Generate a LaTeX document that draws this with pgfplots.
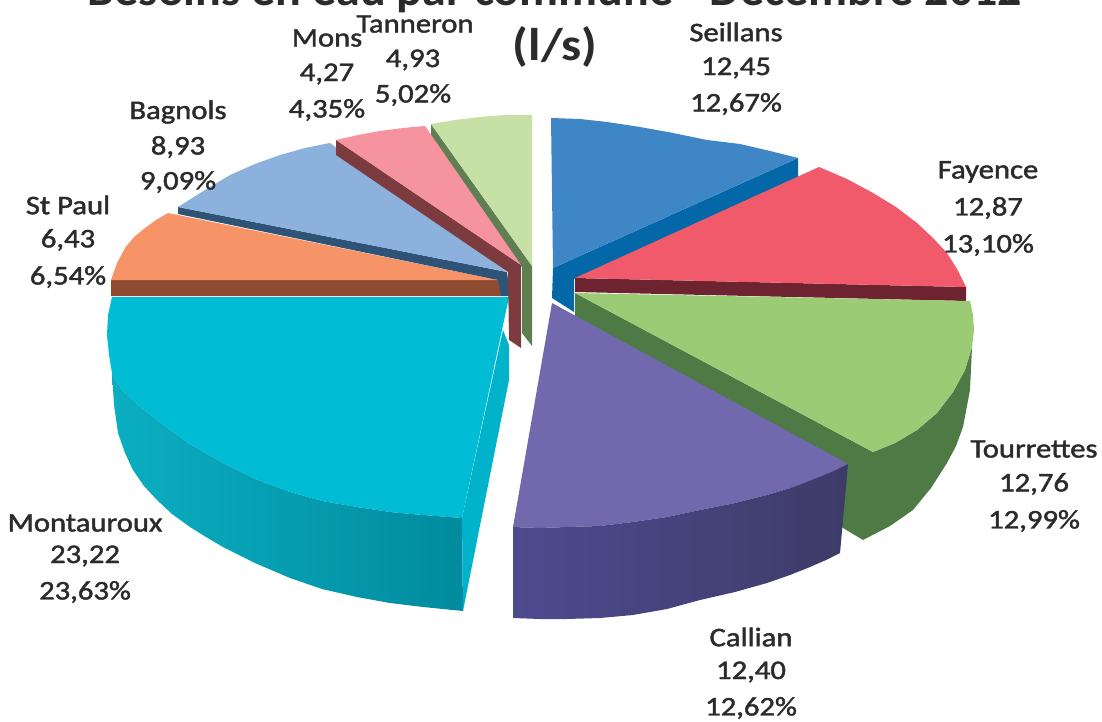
\documentclass[border=0pt]{standalone}
\usepackage{pgfplots}
\pgfplotsset{compat=1.18}
\usepackage{fontspec}
\setmainfont{Carlito}
\newfontfamily\labfont[FakeBold=1.5]{Carlito}
\definecolor{blueT}{HTML}{3F86C6}\definecolor{blueS}{HTML}{0468A8}
\definecolor{redT}{HTML}{F05A6A}\definecolor{redS}{HTML}{6E2430}
\definecolor{greenT}{HTML}{9CCB75}\definecolor{greenS}{HTML}{4E7A46}
\definecolor{purpT}{HTML}{7168AD}\definecolor{purpA}{HTML}{4D4B8F}\definecolor{purpB}{HTML}{3E3B68}
\definecolor{cyanT}{HTML}{00BCD4}\definecolor{cyanA}{HTML}{0BAEC2}\definecolor{cyanB}{HTML}{018B9E}
\definecolor{oranT}{HTML}{F79467}\definecolor{oranS}{HTML}{8E4B2F}
\definecolor{lbluT}{HTML}{8CB1DD}\definecolor{lbluS}{HTML}{2F5377}
\definecolor{pinkT}{HTML}{F5939F}\definecolor{pinkS}{HTML}{7C3B3F}
\definecolor{lgrnT}{HTML}{C6E0A5}\definecolor{lgrnS}{HTML}{5F7F52}
\definecolor{txt}{HTML}{2B2B2B}
\newcommand{\lab}[3]{\node[overlay,txt,xscale=1.14,font=\labfont\fontsize{27}{27}\selectfont,anchor=center,align=center] at (axis cs:#1,#2) {#3};}
\begin{document}
\begin{tikzpicture}
\useasboundingbox (0,0) rectangle (1102bp,722bp);
\clip (0,0) rectangle (1102bp,722bp);
\begin{axis}[
  at={(0,0)}, anchor=south west,
  scale only axis, width=1102bp, height=722bp,
  xmin=0, xmax=1102, ymin=0, ymax=722, y dir=reverse,
  hide axis, clip=false,
]
% Montauroux
\addplot[draw=none,fill=cyanT] coordinates {(112,297)(509,297)(462,518)(423,515)(390,512)(357,507)(322,501)(290,492)(255,479)(223,463)(188,443)(157,420)(138,405)(122,390)(112,373)(109,355)(107,335)(108,315)} --cycle;
\addplot[draw=none,left color=cyanA,right color=cyanB] coordinates {(112,373)(122,390)(138,405)(157,420)(188,443)(223,463)(255,479)(290,492)(322,501)(357,507)(390,512)(423,515)(462,518)(463,611)(423,607)(390,603)(357,597)(322,589)(290,578)(255,563)(223,547)(206,537)(190,527)(172,514)(157,500)(144,486)(133,470)(125,453)(118,433)(114,405)} --cycle;
\addplot[draw=none,fill=cyanT!82!cyanB] coordinates {(503,330)(509,345)(509,380)(463,611)(462,518)} --cycle;
% St Paul
\addplot[draw=none,fill=oranS] coordinates {(111,280)(500,280)(501,296)(111,296)} --cycle;
\addplot[draw=none,fill=oranT] coordinates {(111,280)(117,263)(125,248)(134,237)(145,228)(156,220)(168,213)(498,280)} --cycle;
% Bagnols
\addplot[draw=none,fill=lbluS] coordinates {(178,207)(507,272)(510,296)(501,296)(498,280)(178,214)} --cycle;
\addplot[draw=none,fill=lbluT] coordinates {(178,207)(205,190)(230,175)(255,164)(280,155)(305,148)(330,143)(507,272)} --cycle;
% Tanneron
\addplot[draw=none,fill=lgrnS] coordinates {(431,124)(532,266)(532,346)(522,333)(522,267)(431,142)} --cycle;
\addplot[draw=none,fill=lgrnT] coordinates {(431,124)(455,120)(480,117)(505,115)(532,115)(532,266)} --cycle;
% Mons
\addplot[draw=none,fill=pinkS] coordinates {(336,140)(521,265)(521,348)(509,340)(508,272)(336,155)} --cycle;
\addplot[draw=none,fill=pinkT] coordinates {(336,140)(358,135)(380,131)(403,128)(425,126)(521,265)} --cycle;
% Seillans
\addplot[draw=none,fill=blueS] coordinates {(553,268)(798,158)(798,177)(574,279)(574,312)(552,298)} --cycle;
\addplot[draw=none,fill=blueT] coordinates {(551,118)(580,119)(607,122)(640,127)(673,133)(707,140)(740,144)(770,151)(798,158)(553,268)} --cycle;
% Fayence
\addplot[draw=none,fill=redS] coordinates {(575,278)(966,287)(966,301)(575,292)} --cycle;
\addplot[draw=none,fill=redT] coordinates {(575,278)(819,167)(847,179)(873,193)(896,207)(917,223)(933,238)(947,253)(957,269)(966,287)} --cycle;
% Tourrettes
\addplot[draw=none,fill=greenS] coordinates {(575,293)(873,452)(895,443)(917,430)(937,413)(953,392)(965,370)(972,347)(970,390)(963,427)(956,446)(947,463)(931,488)(913,510)(890,526)(863,540)(843,528)(575,327)} --cycle;
\addplot[draw=none,fill=greenT] coordinates {(575,293)(970,301)(973,315)(974,330)(972,347)(965,370)(953,392)(937,413)(917,430)(895,443)(873,452)} --cycle;
% Callian
\addplot[draw=none,fill=purpT] coordinates {(552,303)(848,464)(834,471)(817,478)(794,487)(767,495)(735,503)(700,510)(667,517)(633,522)(600,526)(567,527)(540,528)(513,527)} --cycle;
\addplot[draw=none,left color=purpA,right color=purpB] coordinates {(513,527)(540,528)(567,527)(600,526)(633,522)(667,517)(700,510)(735,503)(767,495)(794,487)(817,478)(834,471)(848,464)(840,553)(826,560)(810,567)(790,575)(767,583)(735,592)(700,600)(667,609)(633,615)(600,618)(567,619)(540,619)(513,618)} --cycle;
% Title
\node[overlay,txt,xscale=1.025,font=\fontsize{47}{47}\bfseries\selectfont,anchor=base] at (axis cs:555,6) {Besoins en eau par commune - Décembre 2012};
\node[overlay,txt,xscale=1.1,font=\fontsize{46}{46}\bfseries\selectfont,anchor=center] at (axis cs:555,47) {(l/s)};
% Labels
\lab{736}{32}{Seillans}\lab{736}{68}{12,45}\lab{736}{104}{12,67\%}
\lab{988}{172}{Fayence}\lab{988}{208}{12,87}\lab{988}{245}{13,10\%}
\lab{1034}{449}{Tourrettes}\lab{1034}{484}{12,76}\lab{1034}{521}{12,99\%}
\lab{751}{637}{Callian}\lab{751}{672}{12,40}\lab{751}{708}{12,62\%}
\lab{85}{523}{Montauroux}\lab{85}{556}{23,22}\lab{85}{592}{23,63\%}
\lab{68}{205}{St Paul}\lab{68}{240}{6,43}\lab{68}{277}{6,54\%}
\lab{178}{112}{Bagnols}\lab{178}{147}{8,93}\lab{178}{182}{9,09\%}
\lab{327}{38}{Mons}\lab{327}{74}{4,27}\lab{327}{110}{4,35\%}
\lab{415}{24}{Tanneron}\lab{413}{60}{4,93}\lab{413}{95}{5,02\%}
\end{axis}
\end{tikzpicture}
\end{document}
